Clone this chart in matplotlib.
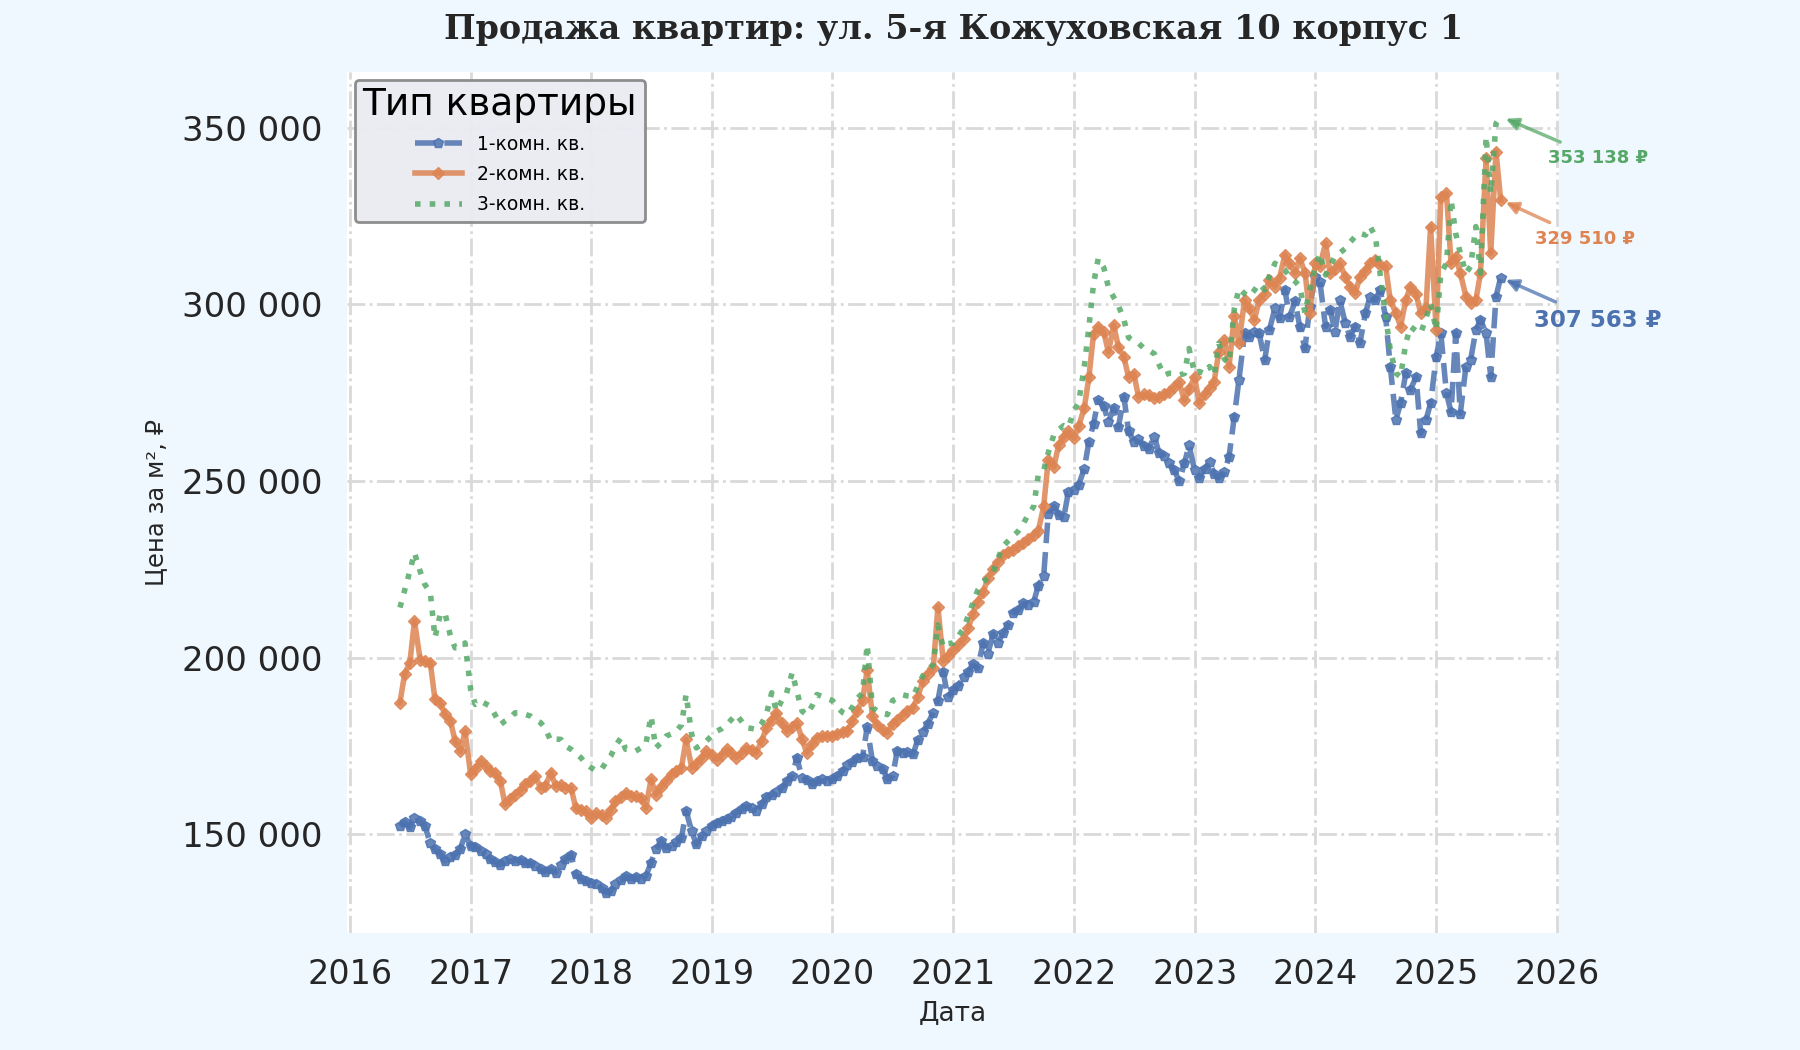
import pandas as pd
import numpy as np
import matplotlib
matplotlib.use('Agg')
import matplotlib.pyplot as plt
from matplotlib.ticker import FuncFormatter
import matplotlib.dates as mdates

plt.rcParams['font.family'] = ['DejaVu Sans']

# цены за м², тыс. руб., значения на 1-е и 15-е число месяца (июнь 2016 - июль 2025)
room1 = [
    152.4, 153.5, 152.0, 154.7, 153.8, 152.5, 147.5, 145.8, 144.5, 142.5, 143.5, 144.3, 146.0, 150.0,
    146.7, 146.5, 145.3, 144.6, 143.0, 142.3, 141.5, 142.5, 143.0, 142.6, 142.8, 141.9, 142.0, 141.2, 140.1, 139.5, 140.1, 139.2, 141.5, 143.0, 144.3, 138.7, 137.5, 136.8,
    136.2, 135.9, 134.8, 133.5, 134.0, 136.0, 137.0, 138.2, 137.5, 138.0, 137.3, 138.2, 142.0, 145.8, 148.1, 146.2, 146.7, 147.8, 149.0, 156.6, 150.9, 147.2, 149.5, 151.0,
    152.5, 153.3, 153.8, 154.3, 155.0, 156.2, 157.2, 158.0, 157.5, 156.6, 158.5, 160.5, 161.3, 162.0, 163.2, 165.0, 166.5, 171.7, 166.0, 165.5, 164.2, 165.0, 165.6, 165.0,
    165.6, 166.5, 168.0, 169.6, 170.5, 171.7, 172.0, 180.3, 170.7, 169.5, 168.6, 165.6, 166.5, 173.7, 173.0, 173.2, 172.7, 176.8, 179.0, 181.3, 184.5, 187.9, 196.0, 188.9,
    191.0, 192.0, 194.5, 196.1, 198.1, 197.0, 204.2, 201.1, 206.7, 204.2, 207.0, 209.3, 212.8, 213.5, 215.4, 215.0, 215.9, 220.4, 223.0, 240.8, 242.8, 240.5, 239.8, 246.9,
    247.5, 248.9, 253.5, 261.1, 266.2, 272.8, 271.2, 266.7, 270.7, 265.2, 273.8, 264.1, 261.1, 262.0, 260.0, 259.1, 262.6, 258.0, 257.0, 255.0, 253.0, 249.9, 255.0, 260.1,
    253.0, 250.9, 253.5, 255.5, 252.0, 250.9, 252.5, 256.9, 268.2, 278.6, 291.8, 290.8, 292.3, 291.8, 284.2, 292.7, 298.9, 296.0, 304.1, 296.5, 300.8, 293.7, 287.5, 299.3,
    307.8, 306.4, 293.7, 298.4, 292.3, 301.2, 294.6, 290.8, 293.7, 289.0, 297.5, 302.2, 301.2, 304.1, 296.5, 282.4, 267.3, 272.0, 280.5, 275.8, 279.5, 263.5, 267.3, 272.0,
    285.2, 291.8, 274.8, 269.6, 291.8, 269.1, 282.4, 284.2, 292.7, 295.6, 291.8, 279.5, 302.2, 307.563,
]
room2 = [
    187.3, 195.3, 198.6, 210.4, 199.5, 199.0, 198.5, 188.2, 187.3, 184.0, 182.1, 176.4, 173.6, 179.2,
    167.0, 168.5, 170.8, 169.5, 168.0, 167.5, 165.1, 158.5, 160.0, 161.3, 162.5, 164.2, 165.0, 166.5, 163.2, 163.8, 167.5, 163.7, 164.0, 163.2, 163.2, 157.5, 156.9, 156.6,
    154.7, 156.0, 155.5, 154.7, 157.0, 159.4, 160.5, 161.8, 161.0, 160.8, 160.4, 157.5, 165.6, 161.3, 163.5, 165.0, 167.0, 168.0, 168.9, 176.9, 168.9, 170.0, 171.5, 173.6,
    172.5, 171.2, 172.5, 174.1, 173.0, 171.7, 173.0, 174.5, 174.0, 173.1, 176.5, 180.2, 182.5, 184.4, 181.5, 179.2, 180.5, 181.6, 177.0, 173.1, 175.5, 177.4, 177.8, 178.0,
    177.8, 178.5, 179.0, 179.3, 182.0, 184.9, 188.0, 196.6, 183.4, 181.0, 179.5, 178.8, 181.3, 182.5, 183.9, 185.0, 185.9, 189.0, 193.5, 195.5, 197.1, 214.4, 199.1, 200.5,
    202.2, 203.5, 205.2, 208.5, 212.3, 215.9, 218.5, 222.5, 225.0, 227.0, 229.1, 230.0, 230.6, 231.5, 232.6, 233.5, 234.7, 236.0, 242.8, 256.0, 254.0, 260.1, 262.5, 264.1,
    262.1, 265.5, 270.7, 279.4, 291.6, 293.6, 292.1, 286.5, 294.1, 288.0, 285.0, 279.4, 280.4, 273.8, 274.5, 274.3, 273.5, 273.8, 274.5, 275.3, 276.5, 277.9, 272.8, 276.0,
    279.4, 272.0, 274.5, 276.3, 278.1, 286.5, 289.9, 282.4, 296.6, 289.0, 301.2, 298.9, 295.6, 301.2, 303.0, 306.9, 305.0, 307.5, 314.0, 311.6, 308.8, 313.0, 309.0, 297.5,
    311.6, 310.7, 317.3, 308.8, 310.0, 311.6, 307.8, 305.0, 303.1, 307.8, 309.5, 311.6, 312.5, 311.0, 310.7, 301.2, 297.5, 293.7, 301.2, 305.0, 303.0, 297.5, 299.0, 322.0,
    292.7, 330.5, 331.4, 311.6, 313.5, 308.8, 302.2, 300.3, 301.2, 308.8, 341.3, 314.4, 343.2, 329.51,
]
room3 = [
    214.2, 219.0, 224.5, 229.7, 224.5, 220.8, 218.4, 205.7, 212.3, 212.7, 206.1, 202.8, 202.8, 204.2,
    191.0, 186.8, 187.7, 187.0, 186.3, 184.0, 181.1, 182.1, 183.0, 184.4, 184.5, 184.0, 183.5, 182.5, 181.6, 180.0, 176.4, 177.0, 176.9, 175.0, 174.1, 173.0, 171.7, 170.0,
    168.9, 168.0, 168.5, 170.5, 172.2, 175.0, 177.4, 174.1, 174.0, 173.6, 174.5, 175.5, 183.5, 174.5, 176.0, 177.8, 178.5, 179.2, 181.0, 189.6, 178.3, 174.5, 175.5, 176.4,
    178.0, 179.2, 180.0, 181.1, 182.5, 184.0, 182.0, 180.2, 180.0, 179.7, 181.5, 184.0, 190.1, 184.9, 188.0, 190.0, 195.8, 190.6, 184.9, 183.9, 186.5, 189.6, 189.0, 188.5,
    187.9, 186.0, 184.5, 183.9, 186.0, 188.4, 190.0, 203.7, 185.9, 185.0, 184.5, 183.9, 187.9, 188.5, 189.5, 189.2, 189.0, 192.0, 195.0, 196.5, 198.1, 209.3, 203.0, 204.0,
    204.2, 206.0, 208.3, 212.0, 215.4, 219.0, 221.5, 222.5, 224.0, 228.0, 231.6, 233.0, 234.5, 235.7, 238.0, 240.5, 242.8, 251.9, 253.0, 258.0, 263.1, 264.5, 265.7, 265.2,
    270.0, 272.3, 282.4, 293.6, 305.8, 312.9, 310.4, 304.8, 302.0, 299.7, 295.6, 290.6, 289.5, 289.0, 287.5, 287.0, 286.0, 283.0, 279.9, 280.5, 280.4, 280.0, 280.4, 287.5,
    280.4, 281.0, 280.4, 282.4, 279.9, 289.0, 284.5, 283.3, 298.7, 304.5, 303.0, 302.2, 304.0, 305.9, 304.1, 308.0, 311.6, 310.5, 309.7, 307.8, 306.5, 305.0, 297.5, 304.0,
    310.7, 314.4, 308.3, 311.0, 313.5, 314.5, 315.8, 317.5, 319.2, 320.1, 319.6, 322.0, 319.2, 308.8, 296.5, 287.1, 280.5, 279.5, 289.0, 293.7, 292.5, 291.8, 296.0, 300.3,
    292.7, 308.8, 311.6, 329.5, 320.1, 314.4, 308.8, 310.7, 322.0, 308.8, 347.5, 331.4, 351.2, 353.138,
]
labels = ['1-комн. кв.', '2-комн. кв.', '3-комн. кв.']
colors = ['#4c72b0', '#dd8452', '#55a868']

dates = pd.date_range('2016-06-01', periods=len(room1), freq='SMS')
df = pd.DataFrame({labels[0]: room1, labels[1]: room2, labels[2]: room3}, index=dates) * 1000

fig = plt.figure(figsize=(18, 10.5), dpi=100, facecolor='#f0f8ff')
ax = fig.add_axes([0.193, 0.111, 0.673, 0.82])
ax.set_facecolor('white')

ax.plot(df.index, df[labels[0]], color=colors[0], linestyle='--', linewidth=4,
        marker='p', markersize=7, alpha=0.85, label=labels[0])
ax.plot(df.index, df[labels[1]], color=colors[1], linestyle='-', linewidth=4,
        marker='D', markersize=6.5, alpha=0.85, label=labels[1])
ax.plot(df.index, df[labels[2]], color=colors[2], linestyle=':', linewidth=4,
        alpha=0.85, label=labels[2])

# подписи последних значений
offsets = [(70, -31), (61, -28), (70, -30)]
sizes = [16.5, 13, 13]
for lab, c, off, fs in zip(labels, colors, offsets, sizes):
    last = df[lab].iloc[-1]
    txt = f'{last:,.0f} ₽'.replace(',', ' ')
    ax.annotate(txt, xy=(df.index[-1], last), xytext=off, textcoords='offset points',
                ha='center', va='center', fontsize=fs, fontweight='bold', color=c,
                arrowprops=dict(arrowstyle='-|>', color=c, lw=2.5, alpha=0.75,
                                mutation_scale=18, shrinkA=8, shrinkB=4))

ax.set_xlim(pd.Timestamp('2015-12-25'), pd.Timestamp('2026-01-07'))
ax.set_ylim(122000, 365600)
ax.xaxis.set_major_locator(mdates.YearLocator())
ax.xaxis.set_major_formatter(mdates.DateFormatter('%Y'))
ax.yaxis.set_major_locator(plt.MultipleLocator(50000))
ax.yaxis.set_major_formatter(FuncFormatter(lambda v, p: f'{v:,.0f}'.replace(',', ' ')))
ax.tick_params(axis='y', labelsize=24.5, length=0, pad=18, labelcolor='#262626')
ax.tick_params(axis='x', labelsize=24, length=0, pad=18, labelcolor='#262626')

ax.grid(True, linestyle='-.', color='#d9d9d9', linewidth=2)
for s in ax.spines.values():
    s.set_visible(False)

ax.set_xlabel('Дата', fontsize=19, color='#262626', labelpad=6)
ax.set_ylabel('Цена за м², ₽', fontsize=17.5, color='#262626', labelpad=10)
ax.set_title('Продажа квартир: ул. 5-я Кожуховская 10 корпус 1', family='DejaVu Serif',
             fontweight='bold', fontsize=24, color='#262626', pad=24)

leg = ax.legend(title='Тип квартиры', loc='upper left', fontsize=13.5, title_fontsize=27,
                frameon=True, facecolor='#eaeaf2', edgecolor='#888888', framealpha=0.95,
                borderaxespad=0.4, handlelength=2.5, labelspacing=0.6)
leg.get_frame().set_linewidth(2)

plt.savefig('out.png', dpi=100, facecolor=fig.get_facecolor())
